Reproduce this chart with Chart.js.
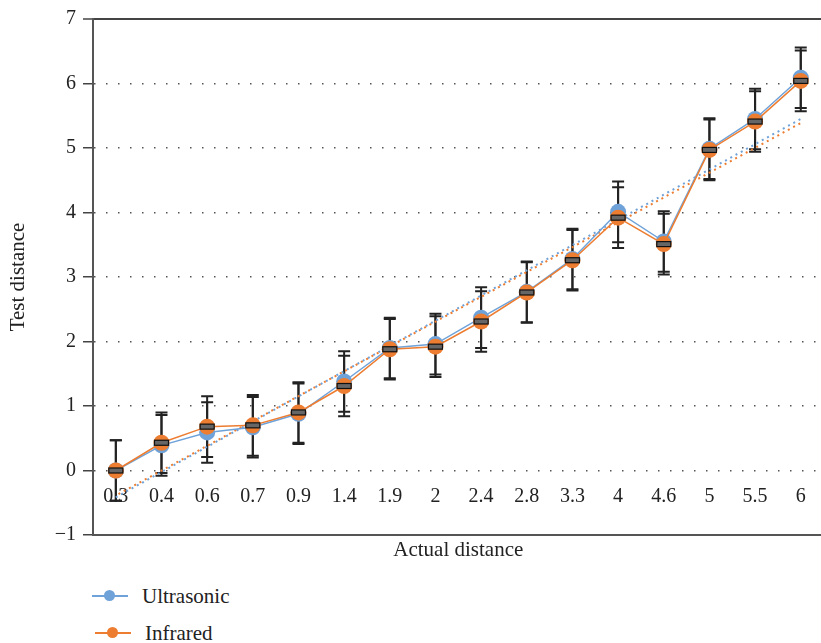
<!DOCTYPE html>
<html>
<head>
<meta charset="utf-8">
<script src="https://cdn.jsdelivr.net/npm/chart.js@4.4.0/dist/chart.umd.min.js"></script>
<style>
    body { margin: 0; background: #fff; overflow: hidden; width: 821px; height: 643px; position: relative; font-family: "Liberation Serif", serif; }
    #wrap { position: absolute; left: 0; top: 0; width: 832px; height: 570px; }
    .legend-item { position: absolute; height: 24px; font-size: 21px; color: #222; line-height: 24px; }
    .legend-line { position: absolute; top: 11px; width: 36px; height: 2px; }
    .legend-dot { position: absolute; top: 6px; width: 11px; height: 11px; border-radius: 50%; }
    .legend-text { position: absolute; white-space: nowrap; }
</style>
</head>
<body>
<div id="wrap"><canvas id="chart"></canvas></div>
<div id="legend"></div>
<script>
const categories = ['0.3', '0.4', '0.6', '0.7', '0.9', '1.4', '1.9', '2', '2.4', '2.8', '3.3', '4', '4.6', '5', '5.5', '6'];
const ultrasonic = [0, 0.39, 0.59, 0.67, 0.88, 1.38, 1.9, 1.96, 2.37, 2.77, 3.28, 4.01, 3.55, 4.99, 5.45, 6.09];
const infrared = [0, 0.43, 0.68, 0.70, 0.90, 1.31, 1.88, 1.92, 2.31, 2.76, 3.26, 3.92, 3.51, 4.97, 5.41, 6.04];
const ultrasonicError = [0.47, 0.47, 0.47, 0.47, 0.47, 0.47, 0.47, 0.47, 0.47, 0.47, 0.47, 0.47, 0.47, 0.47, 0.47, 0.47];
const infraredError = [0.47, 0.47, 0.47, 0.47, 0.47, 0.47, 0.47, 0.47, 0.47, 0.47, 0.47, 0.47, 0.47, 0.47, 0.47, 0.47];

const BLUE = '#6fa2d8';
const ORANGE = '#ed7d31';
const FONT = '"Liberation Serif", serif';

// least squares trend line, like the spreadsheet one
function trend(values) {
    const n = values.length;
    let sx = 0, sy = 0, sxy = 0, sxx = 0;
    values.forEach((v, i) => { sx += i; sy += v; sxy += i * v; sxx += i * i; });
    const slope = (n * sxy - sx * sy) / (n * sxx - sx * sx);
    const icpt = (sy - slope * sx) / n;
    return values.map((_, i) => icpt + slope * i);
}

const errorBars = {
    id: 'errorBars',
    beforeDatasetsDraw(chart) {
        const ctx = chart.ctx;
        const yScale = chart.scales.y;
        chart.data.datasets.forEach((ds, i) => {
            if (!ds.errors) return;
            const meta = chart.getDatasetMeta(i);
            ctx.save();
            ctx.strokeStyle = '#222';
            ctx.lineWidth = 2;
            meta.data.forEach((pt, j) => {
                const top = yScale.getPixelForValue(ds.data[j] + ds.errors[j]);
                const bot = yScale.getPixelForValue(ds.data[j] - ds.errors[j]);
                ctx.beginPath();
                ctx.moveTo(pt.x, top); ctx.lineTo(pt.x, bot);
                ctx.moveTo(pt.x - 6, top); ctx.lineTo(pt.x + 6, top);
                ctx.moveTo(pt.x - 6, bot); ctx.lineTo(pt.x + 6, bot);
                ctx.stroke();
            });
            ctx.restore();
        });
    },
    afterDatasetsDraw(chart) {
        // small dark bar on the marker centre
        const ctx = chart.ctx;
        const meta = chart.getDatasetMeta(1);
        ctx.save();
        ctx.fillStyle = '#666';
        ctx.strokeStyle = '#111';
        ctx.lineWidth = 1.2;
        meta.data.forEach(pt => {
            ctx.fillRect(pt.x - 7, pt.y - 2.5, 14, 5);
            ctx.strokeRect(pt.x - 7, pt.y - 2.5, 14, 5);
        });
        ctx.restore();
    }
};

new Chart(document.getElementById('chart'), {
    type: 'line',
    data: {
        labels: categories,
        datasets: [
            {
                label: 'Ultrasonic',
                data: ultrasonic,
                errors: ultrasonicError,
                borderColor: BLUE,
                backgroundColor: BLUE,
                borderWidth: 1.5,
                pointRadius: 8,
                pointBorderWidth: 0,
                order: 2
            },
            {
                label: 'Infrared',
                data: infrared,
                errors: infraredError,
                borderColor: ORANGE,
                backgroundColor: ORANGE,
                borderWidth: 1.5,
                pointRadius: 8,
                pointBorderWidth: 0,
                order: 1
            },
            {
                label: 'Ultrasonic trend',
                data: trend(ultrasonic),
                borderColor: BLUE,
                borderWidth: 2,
                borderDash: [2, 4],
                pointRadius: 0,
                order: 4
            },
            {
                label: 'Infrared trend',
                data: trend(infrared),
                borderColor: ORANGE,
                borderWidth: 2,
                borderDash: [2, 4],
                borderDashOffset: 3,
                pointRadius: 0,
                order: 3
            }
        ]
    },
    options: {
        responsive: true,
        maintainAspectRatio: false,
        animation: false,
        layout: { padding: { top: 19, left: 0, right: 0, bottom: 0 } },
        plugins: {
            legend: { display: false },
            tooltip: { enabled: false }
        },
        scales: {
            x: {
                offset: true,
                grid: { display: false },
                border: { color: '#555', width: 2 },
                ticks: {
                    autoSkip: false,
                    maxRotation: 0,
                    mirror: true,
                    padding: 26,
                    color: '#222',
                    font: { family: FONT, size: 20 }
                },
                title: {
                    display: true,
                    text: 'Actual distance',
                    color: '#222',
                    font: { family: FONT, size: 21 },
                    padding: { top: 0, bottom: 7 }
                },
                afterFit: s => { s.height = 35; }
            },
            y: {
                min: -1,
                max: 7,
                ticks: {
                    stepSize: 1,
                    padding: 7,
                    color: '#222',
                    font: { family: FONT, size: 20 },
                    callback: v => v < 0 ? '\u2212' + Math.abs(v) : v
                },
                grid: {
                    color: c => c.tick.value === -1 ? 'rgba(0,0,0,0)' : (c.tick.value === 7 ? '#444' : '#555'),
                    lineWidth: c => c.tick.value === 7 ? 2 : 1.5,
                    tickLength: 10,
                    tickColor: '#444',
                    tickWidth: 1.5
                },
                border: {
                    color: '#555',
                    width: 2,
                    dash: c => (c.tick && c.tick.value !== 7) ? [1.5, 10.5] : []
                },
                title: {
                    display: true,
                    text: 'Test distance',
                    color: '#222',
                    font: { family: FONT, size: 21 },
                    padding: { top: 6, bottom: 0 }
                },
                afterFit: s => { s.width = 93; }
            }
        }
    },
    plugins: [errorBars]
});

// legend, stacked like the original
const legendItems = [
    { text: 'Ultrasonic', color: BLUE, x: 92, y: 584, textX: 50 },
    { text: 'Infrared', color: ORANGE, x: 95, y: 621, textX: 50 }
];
const legend = document.getElementById('legend');
legendItems.forEach(item => {
    const el = document.createElement('div');
    el.className = 'legend-item';
    el.style.left = item.x + 'px';
    el.style.top = item.y + 'px';
    el.innerHTML = `
        <div class="legend-line" style="left:0;background:${item.color}"></div>
        <div class="legend-dot" style="left:12px;background:${item.color}"></div>
        <span class="legend-text" style="left:${item.textX}px">${item.text}</span>
    `;
    legend.appendChild(el);
});
</script>
</body>
</html>
